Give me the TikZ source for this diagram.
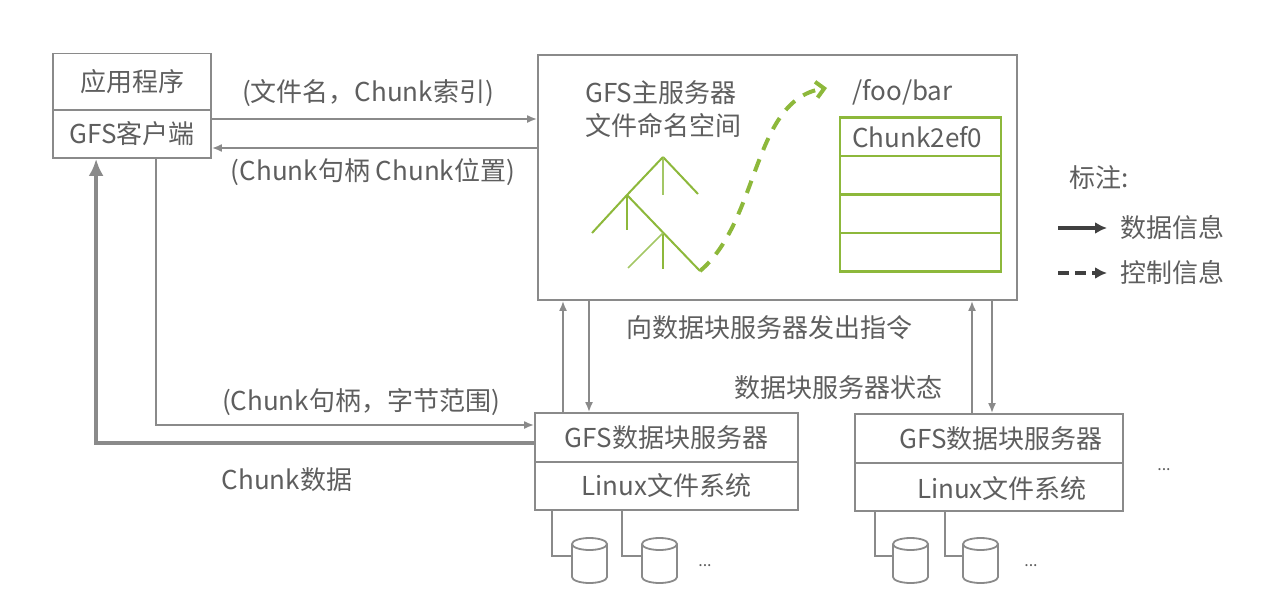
\documentclass[tikz,border=0pt]{standalone}
\usepackage{fontspec}
\setmainfont{Noto Sans CJK SC}
\usetikzlibrary{arrows.meta}
\definecolor{txt}{HTML}{5E5E5E}
\definecolor{ln}{HTML}{8A8A8A}
\definecolor{gr}{HTML}{8DB83B}
\definecolor{grl}{HTML}{A3C765}
\definecolor{dk}{HTML}{404040}
\tikzset{
  lbl/.style={font=\fontsize{26}{30}\selectfont, text=txt, inner sep=0pt},
  box/.style={draw=ln, line width=1.8pt, inner sep=0pt, lbl},
  gbox/.style={draw=gr, line width=2.2pt, inner sep=0pt, minimum width=161, minimum height=38.5},
  conn/.style={draw=ln, line width=1.8pt},
  arr/.style={conn, -{Latex[length=10pt,width=8pt]}},
  bigarr/.style={draw=ln, line width=4.2pt, -{Latex[length=17pt,width=15pt]}},
  tree/.style={draw=gr, line width=2pt},
  treel/.style={draw=grl, line width=1.6pt},
  dots/.style={font=\fontsize{16}{18}\selectfont, text=txt, inner sep=0pt},
}
\begin{document}
\begin{tikzpicture}[x=1pt,y=-1pt]
\useasboundingbox (0,0) rectangle (1274,597);

% application
\node[box, minimum width=158, minimum height=57] (appA) at (132,82) {应用程序};
\node[box, minimum width=158, minimum height=48] (appB) at (132,134) {GFS客户端};

% master
\node[box, minimum width=479, minimum height=245] (master) at (777.5,177.5) {};
\node[lbl, anchor=west] (mt1) at (585,93) {GFS主服务器};
\node[lbl, anchor=west] (mt2) at (585,125) {文件命名空间};
\node[lbl, anchor=west] (foo) at (852,92) {/foo/bar};

% chunk table
\node[gbox] (ct1) at (920.5,136.75) {};
\node[gbox] (ct2) at (920.5,175.25) {};
\node[gbox] (ct3) at (920.5,213.75) {};
\node[gbox] (ct4) at (920.5,252.25) {};
\node[lbl, anchor=west] (ctt) at (852,137) {Chunk2ef0};

% namespace tree
\coordinate (tA) at (663,157);
\coordinate (tB) at (627,195);
\coordinate (tC) at (700,271);
\coordinate (tD) at (663,233);
\draw[tree] (tA) -- (698,194);
\draw[treel] (tA) -- (663,195);
\draw[tree] (tA) -- (tB) -- (592,233);
\draw[tree] (tB) -- (627,230);
\draw[tree] (tB) -- (tC);
\draw[tree] (tD) -- (663,269);
\draw[treel] (tD) -- (628,268);
\coordinate (cEnd) at (827,88);
\draw[draw=gr, line width=4pt, dash pattern=on 13pt off 10pt, -{Straight Barb[length=8pt,width=16pt]}]
  (tC) .. controls (760,220) and (752,100) .. (cEnd);

% chunk servers
\node[box, minimum width=263, minimum height=49] (cs1a) at (666.5,437.5) {GFS数据块服务器};
\node[box, minimum width=263, minimum height=48] (cs1b) at (666.5,486) {Linux文件系统};
\node[box, minimum width=268, minimum height=49] (cs2a) at (989,438.5) {};
\node[box, minimum width=268, minimum height=48] (cs2b) at (989,487) {};
\node[lbl] (cs2t1) at (1001,438.5) {GFS数据块服务器};
\node[lbl] (cs2t2) at (1002,489) {Linux文件系统};

% disks
\foreach \L/\n in {572/d1,642/d2,893/d3,963/d4}{
  \coordinate (\n) at (\L,556);
  \draw[conn, fill=white] (\L,544) -- (\L,577)
     arc[start angle=180,end angle=360,x radius=17.5pt,y radius=6pt]
     -- (\L+35,544)
     arc[start angle=0,end angle=180,x radius=17.5pt,y radius=6pt] -- cycle;
  \draw[conn] (\L,544) arc[start angle=180,end angle=360,x radius=17.5pt,y radius=6pt];
}
\draw[conn] ([xshift=18pt]cs1b.south west) |- (d1);
\draw[conn] ([xshift=88pt]cs1b.south west) |- (d2);
\draw[conn] ([xshift=21pt]cs2b.south west) |- (d3);
\draw[conn] ([xshift=91pt]cs2b.south west) |- (d4);
\node[dots] (e1) at (705,566) {...};
\node[dots] (e2) at (1031,566) {...};
\node[dots] (e3) at (1164,470) {...};

% client <-> master
\coordinate (y1) at (0,119);
\coordinate (y2) at (0,148);
\draw[arr] (appB.east |- y1) -- (master.west |- y1);
\draw[arr] (master.west |- y2) -- (appB.east |- y2);
\node[lbl] (l1) at (368,93) {(文件名，Chunk索引)};
\node[lbl] (l2) at (373,172) {(Chunk句柄 Chunk位置)};

% client <-> chunkserver
\coordinate (y3) at (0,425);
\coordinate (y4) at (0,443);
\draw[arr] ([xshift=104pt]appB.south west) |- (cs1a.west |- y3);
\draw[bigarr] (cs1a.west |- y4) -| ([xshift=44pt]appB.south west);
\node[lbl] (l3) at (361,402) {(Chunk句柄，字节范围)};
\node[lbl] (l4) at (287,480) {Chunk数据};

% master <-> chunkservers
\coordinate (x1) at (563,0);
\coordinate (x2) at (589,0);
\coordinate (x3) at (972,0);
\coordinate (x4) at (992,0);
\draw[arr] (cs1a.north -| x1) -- (master.south -| x1);
\draw[arr] (master.south -| x2) -- (cs1a.north -| x2);
\draw[arr] (cs2a.north -| x3) -- (master.south -| x3);
\draw[arr] (master.south -| x4) -- (cs2a.north -| x4);
\node[lbl] (l5) at (769,328) {向数据块服务器发出指令};
\node[lbl] (l6) at (838,388) {数据块服务器状态};

% legend
\node[lbl, anchor=west] (lg) at (1069,178) {标注:};
\coordinate (ls1) at (1058,228);
\coordinate (le1) at (1107,228);
\coordinate (ls2) at (1058,273);
\coordinate (le2) at (1107,273);
\draw[draw=dk, line width=4pt, -{Latex[length=12pt,width=12pt]}] (ls1) -- (le1);
\draw[draw=dk, line width=4pt, dash pattern=on 11pt off 6pt, -{Latex[length=12pt,width=12pt]}] (ls2) -- (le2);
\node[lbl, anchor=west] (lg1) at (1120,228) {数据信息};
\node[lbl, anchor=west] (lg2) at (1120,273) {控制信息};
\end{tikzpicture}
\end{document}
